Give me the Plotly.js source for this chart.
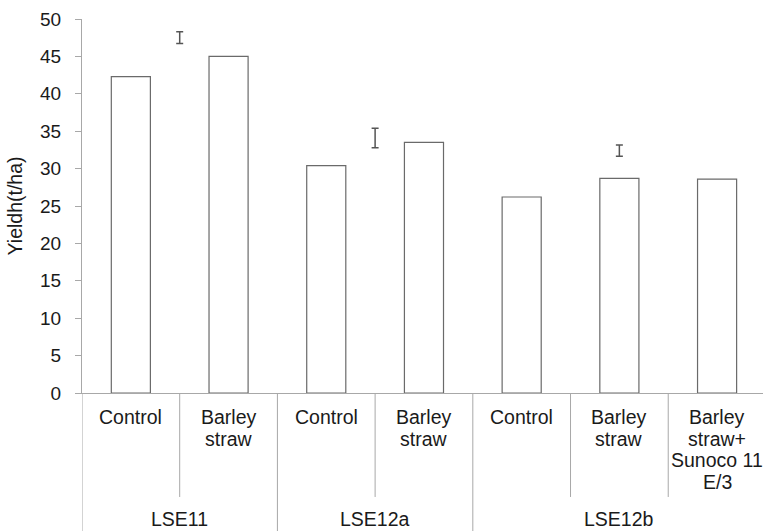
<!DOCTYPE html>
<html>
<head>
<meta charset="utf-8">
<script src="https://cdn.plot.ly/plotly-3.0.1.min.js"></script>
<style>html,body{margin:0;padding:0;background:#fff;}#chart{width:763px;height:531px;}</style>
</head>
<body>
<div id="chart"></div>
<script>
// ---- data ----
const groups = ["LSE11", "LSE12a", "LSE12b"];
const groupSizes = [2, 2, 3];
const treatments = ["Control", "Barley<br>straw", "Control", "Barley<br>straw", "Control", "Barley<br>straw", "Barley<br>straw+<br>Sunoco 11<br>E/3"];
const yieldValues = [42.3, 45.0, 30.4, 33.5, 26.2, 28.7, 28.6];
// LSD bars: position (category index units), centre and half-length
const lsdPosition = [0.5, 2.5, 5];
const lsdCenter = [47.5, 34.1, 32.4];
const lsdHalf = [0.78, 1.3, 0.74];
const yTicks = [0, 5, 10, 15, 20, 25, 30, 35, 40, 45, 50];

// ---- build ----
const xIdx = treatments.map((_, i) => i);
const font = "Liberation Sans, Arial, sans-serif";
const sepColor = "#a8a8a8";
const textColor = "#1a1a1a";
const labelSize = 19.5;
const lineStep = 21.7;

const shapes = [];
const annotations = [];

// treatment labels (one annotation per line for tight line spacing)
treatments.forEach((lab, i) => {
  lab.split("<br>").forEach((line, k) => {
    annotations.push({
      x: i, xref: "x", y: 0, yref: "paper", yanchor: "middle", xanchor: "center",
      yshift: -(24 + k * lineStep), text: line, showarrow: false,
      font: {family: font, size: labelSize, color: textColor}
    });
  });
});

let start = 0;
groups.forEach((g, gi) => {
  const n = groupSizes[gi];
  annotations.push({
    x: start + (n - 1) / 2, xref: "x", y: 0, yref: "paper",
    yshift: -126, yanchor: "middle", xanchor: "center",
    text: g, showarrow: false, font: {family: font, size: labelSize, color: textColor}
  });
  for (let k = 1; k < n; k++) {
    shapes.push({type: "line", xref: "x", yref: "paper", x0: start + k - 0.5, x1: start + k - 0.5,
      y0: 0, y1: -0.278, line: {color: sepColor, width: 1}});
  }
  shapes.push({type: "line", xref: "x", yref: "paper", x0: start + n - 0.5, x1: start + n - 0.5,
    y0: 0, y1: -0.4, line: {color: sepColor, width: 1}});
  start += n;
});
shapes.push({type: "line", xref: "x", yref: "paper", x0: -0.5, x1: -0.5,
  y0: 0, y1: -0.4, line: {color: sepColor, width: 1}});

const traces = [
  {
    type: "bar", x: xIdx, y: yieldValues, width: 0.4,
    marker: {color: "#ffffff", line: {color: "#6a6a6a", width: 1.2}},
    hoverinfo: "y", showlegend: false
  },
  {
    type: "scatter", mode: "markers", x: lsdPosition, y: lsdCenter,
    marker: {size: 1, color: "rgba(0,0,0,0)"},
    error_y: {type: "data", array: lsdHalf, visible: true, color: "#555555", thickness: 1.5, width: 3.5},
    hoverinfo: "skip", showlegend: false
  }
];

const layout = {
  width: 763, height: 531,
  margin: {l: 82, r: 0, t: 19, b: 138},
  paper_bgcolor: "#ffffff", plot_bgcolor: "#ffffff",
  font: {family: font, color: textColor},
  xaxis: {
    range: [-0.5, 6.47], showticklabels: false,
    ticks: "", showgrid: false, zeroline: false,
    showline: true, linecolor: sepColor, linewidth: 1
  },
  yaxis: {
    range: [0, 50], tickvals: yTicks, ticks: "outside", ticklen: 6, tickcolor: sepColor,
    showgrid: false, zeroline: false, showline: true, linecolor: sepColor, linewidth: 1,
    tickfont: {family: font, size: 19, color: textColor},
    ticklabelstandoff: 10,
    title: {text: "Yieldh(t/ha)", font: {family: font, size: 19.5, color: textColor}, standoff: 12}
  },
  shapes: shapes,
  annotations: annotations,
  bargap: 0.6
};

Plotly.newPlot("chart", traces, layout, {displayModeBar: false, staticPlot: true});
</script>
</body>
</html>
